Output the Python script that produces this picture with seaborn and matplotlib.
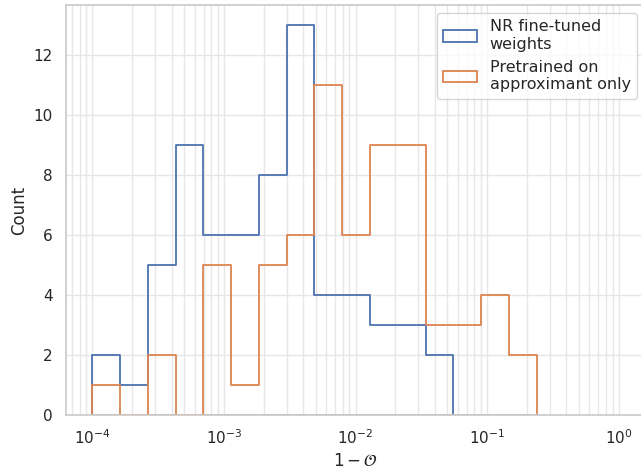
import numpy as np
import pandas as pd
import matplotlib
matplotlib.use("Agg")
import matplotlib.pyplot as plt
import seaborn as sns
from matplotlib.patches import Patch
from matplotlib.colors import to_rgba

# Bin edges in log10 units (16 shared bins)
log_lo, log_hi, n_bins = -4.0, -0.624, 16
labels = ["NR fine-tuned\nweights", "Pretrained on\napproximant only"]
counts_nr = [2, 1, 5, 9, 6, 6, 8, 13, 4, 4, 3, 3, 2, 0, 0, 0]
counts_pre = [1, 0, 2, 0, 5, 1, 5, 6, 11, 6, 9, 9, 3, 3, 4, 2]

edges_log = np.linspace(log_lo, log_hi, n_bins + 1)
centers = 10 ** ((edges_log[:-1] + edges_log[1:]) / 2)

df = pd.DataFrame({
    "value": np.concatenate([centers, centers]),
    "weight": np.concatenate([counts_nr, counts_pre]),
    "model": [labels[0]] * n_bins + [labels[1]] * n_bins,
})

sns.set_theme(style="whitegrid")
plt.rcParams["grid.color"] = "#e6e6e6"
fig = plt.figure(figsize=(6.41, 4.71), dpi=100)
ax = fig.add_axes([66 / 641, 1 - 415 / 471, (645 - 66) / 641, (415 - 5) / 471])

sns.histplot(data=df, x="value", weights="weight", hue="model",
             bins=list(edges_log), log_scale=True, element="step", fill=True,
             facecolor="none", linewidth=1.3,
             ax=ax, legend=False)

pal = sns.color_palette()
# put the second series on top, as in the reference
for coll in ax.collections:
    ec = coll.get_edgecolor()
    if len(ec) and np.allclose(ec[0][:3], to_rgba(pal[1])[:3], atol=0.02):
        coll.set_zorder(2.2)

ax.set_xlim(10 ** -4.2, 10 ** 0.2)
ax.grid(True, which="major", color="#e6e6e6", linewidth=1)
ax.grid(True, which="minor", axis="x", color="#e6e6e6", linewidth=1)
ax.set_xlabel(r"$1-\mathcal{O}$")
ax.set_ylabel("Count")

handles = [Patch(facecolor="none", edgecolor=pal[0], linewidth=1.3),
           Patch(facecolor="none", edgecolor=pal[1], linewidth=1.3)]
ax.legend(handles, labels, loc="upper right", fontsize=11.5,
          handlelength=2.1, handleheight=0.72)

fig.savefig("out.png", dpi=100)
